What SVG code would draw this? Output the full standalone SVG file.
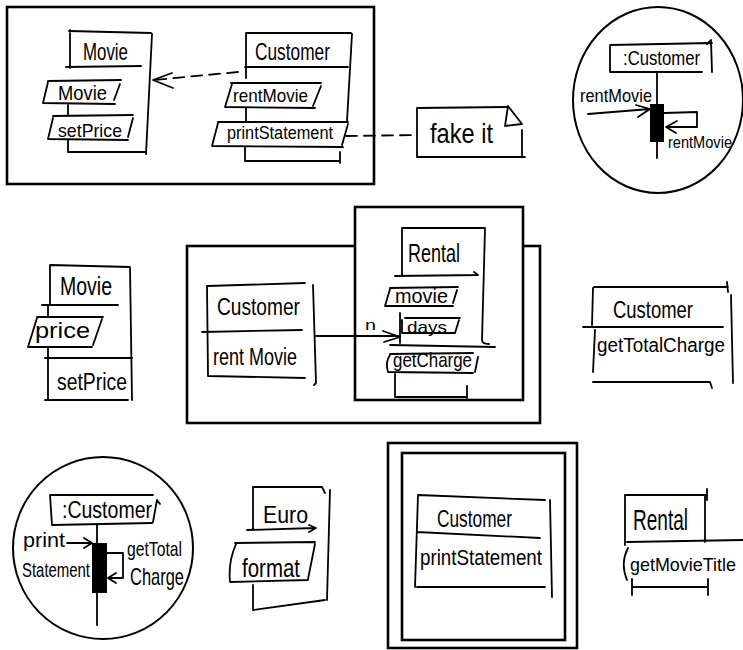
<svg xmlns="http://www.w3.org/2000/svg" width="743" height="650" viewBox="0 0 743 650">
  <style>
    .ln { fill: none; stroke: #000; stroke-width: 1.8; stroke-linecap: round; stroke-linejoin: round; }
    .fr { fill: none; stroke: #000; stroke-width: 2.6; }
    .frw { fill: #fff; stroke: #000; stroke-width: 2.6; }
    .ring { fill: none; stroke: #000; stroke-width: 2; }
    .dash { stroke-dasharray: 11 7; }
    .bar { fill: #000; }
    text { font-family: "Liberation Sans", Arial, sans-serif; fill: #000; }
  </style>
  <rect width="743" height="650" fill="#fff"/>

  <!-- sketch 1: Movie / Customer refactoring with note -->
  <rect class="fr" x="7" y="7" width="367" height="177"/>

  <g id="movie-card-a">
    <path class="ln" d="M70,30 L70,68 M69,31 L151,33 M152,34 L146,154 M66,67 L141,66"/>
    <path class="ln" d="M48,81 L121,80 M48,82 L43,103 L115,104 M120,84 L114,100"/>
    <path class="ln" d="M68,105 L68,115"/>
    <path class="ln" d="M53,116 L133,115 M53,118 L48,139 L128,140 M133,118 L128,137"/>
    <path class="ln" d="M68,140 L68,152 L145,152"/>
    <text x="83" y="60" font-size="24" textLength="45" lengthAdjust="spacingAndGlyphs">Movie</text>
    <text x="58" y="100" font-size="20" textLength="49" lengthAdjust="spacingAndGlyphs">Movie</text>
    <text x="58" y="137" font-size="19" textLength="64" lengthAdjust="spacingAndGlyphs">setPrice</text>
  </g>

  <g id="customer-card-a">
    <path class="ln" d="M246,33 L246,78 M246,33 L351,33 M352,34 L347,121 M245,67 L348,67"/>
    <path class="ln" d="M231,83 L321,83 M232,84 L225,107 L315,108 M321,86 L313,106"/>
    <path class="ln" d="M246,108 L246,121"/>
    <path class="ln" d="M218,122 L348,122 M218,123 L212,146 L343,147 M348,124 L342,145"/>
    <path class="ln" d="M245,147 L245,161 L340,161 M340,152 L340,163"/>
    <text x="255" y="60" font-size="23" textLength="75" lengthAdjust="spacingAndGlyphs">Customer</text>
    <text x="233" y="102" font-size="19" textLength="75" lengthAdjust="spacingAndGlyphs">rentMovie</text>
    <text x="227" y="139" font-size="18" textLength="106" lengthAdjust="spacingAndGlyphs">printStatement</text>
  </g>

  <g id="note-fake-it">
    <path class="ln" d="M417,108 L507,107 M417,108 L417,157 L525,157 M522,130 L522,157"/>
    <path class="ln" stroke-width="2" d="M508,106 L505,126 L522,124 Z"/>
    <text x="430" y="143" font-size="28" textLength="63" lengthAdjust="spacingAndGlyphs">fake it</text>
  </g>

  <!-- sketch 2: rentMovie sequence -->
  <g id="sequence-rent-movie">
    <ellipse class="ring" cx="658" cy="100" rx="85" ry="93"/>
    <path class="ln" d="M610,45 L712,43 M610,45 L610,72 L702,72 M711,40 L712,72 M711,40 L707,44"/>
    <text x="623" y="65" font-size="20" textLength="77" lengthAdjust="spacingAndGlyphs">:Customer</text>
    <path class="ln" d="M657,72 L657,104 M657,142 L657,158"/>
    <rect class="bar" x="650" y="104" width="14" height="38"/>
    <text x="580" y="102" font-size="19" textLength="72" lengthAdjust="spacingAndGlyphs">rentMovie</text>
    <text x="668" y="148" font-size="16" textLength="64" lengthAdjust="spacingAndGlyphs">rentMovie</text>
  </g>

  <!-- sketch 3: Movie with price field -->
  <g id="movie-card-b">
    <path class="ln" d="M50,265 L50,305 M50,265 L130,267 M130,268 L132,400 M42,305 L118,305 M48,305 L48,316"/>
    <path class="ln" d="M37,317 L103,317 M37,318 L28,347 L92,347 M102,319 L93,345"/>
    <path class="ln" d="M48,347 L48,400 M45,358 L132,358 M45,400 L128,400"/>
    <text x="60" y="295" font-size="25" textLength="52" lengthAdjust="spacingAndGlyphs">Movie</text>
    <text x="35" y="338" font-size="22" textLength="55" lengthAdjust="spacingAndGlyphs">price</text>
    <text x="57" y="390" font-size="23" textLength="70" lengthAdjust="spacingAndGlyphs">setPrice</text>
  </g>

  <!-- sketch 4: Customer / Rental association -->
  <rect class="fr" x="187" y="246" width="353" height="177"/>
  <rect class="frw" x="355" y="207" width="168" height="193"/>

  <g id="customer-card-b">
    <path class="ln" d="M207,286 L208,376 M207,286 L305,283 M313,285 L316,383 L314,385 M202,332 L302,330 M208,376 L305,378"/>
    <text x="217" y="315" font-size="23" textLength="83" lengthAdjust="spacingAndGlyphs">Customer</text>
    <text x="213" y="365" font-size="23" textLength="84" lengthAdjust="spacingAndGlyphs">rent Movie</text>
  </g>

  <g id="rental-card-a">
    <path class="ln" d="M402,228 L402,276 M402,228 L485,228 M485,229 L482,340 Q482,344 489,344 M395,276 L478,275 L474,272"/>
    <path class="ln" d="M390,288 L458,287 M390,289 L385,306 L453,306 M457,290 L453,303"/>
    <path class="ln" d="M405,318 L460,318 M402,320 L402,333 L455,333 M459,320 L455,333 M400,313 L400,343"/>
    <path class="ln" d="M390,345 L495,347"/>
    <path class="ln" d="M390,354 L473,353 M390,355 Q385,362 388,372 L473,373 M478,357 L475,372"/>
    <path class="ln" d="M395,374 L395,397 L467,397 M467,386 L467,398"/>
    <text x="408" y="262" font-size="25" textLength="52" lengthAdjust="spacingAndGlyphs">Rental</text>
    <text x="395" y="303" font-size="20" textLength="53" lengthAdjust="spacingAndGlyphs">movie</text>
    <text x="407" y="333" font-size="17" textLength="40" lengthAdjust="spacingAndGlyphs">days</text>
    <text x="393" y="367" font-size="21" textLength="79" lengthAdjust="spacingAndGlyphs">getCharge</text>
  </g>

  <!-- sketch 5: Customer getTotalCharge -->
  <g id="customer-card-c">
    <path class="ln" d="M594,287 L728,287 M727,282 L728,292 M593,288 L592,325 M595,330 L593,372 M583,327 L723,327 M731,295 L733,383 M593,382 L710,382 L712,388"/>
    <text x="613" y="318" font-size="24" textLength="80" lengthAdjust="spacingAndGlyphs">Customer</text>
    <text x="597" y="352" font-size="20" textLength="128" lengthAdjust="spacingAndGlyphs">getTotalCharge</text>
  </g>

  <!-- sketch 6: printStatement sequence -->
  <g id="sequence-print-statement">
    <ellipse class="ring" cx="103" cy="548" rx="90" ry="91"/>
    <path class="ln" d="M50,495 L153,495 M50,495 L52,525 L152,523 M157,500 L153,522 M157,500 L160,504"/>
    <text x="62" y="518" font-size="23" textLength="90" lengthAdjust="spacingAndGlyphs">:Customer</text>
    <path class="ln" d="M97,525 L97,543 M97,593 L97,625"/>
    <rect class="bar" x="92" y="543" width="15" height="50"/>
    <text x="23" y="547" font-size="20" textLength="42" lengthAdjust="spacingAndGlyphs">print</text>
    <text x="22" y="577" font-size="20" textLength="68" lengthAdjust="spacingAndGlyphs">Statement</text>
    <text x="127" y="556" font-size="21" textLength="55" lengthAdjust="spacingAndGlyphs">getTotal</text>
    <text x="130" y="585" font-size="24" textLength="54" lengthAdjust="spacingAndGlyphs">Charge</text>
  </g>

  <!-- sketch 7: Euro -->
  <g id="euro-card">
    <path class="ln" d="M253,487 L253,530 M253,487 L322,487 L325,493 M330,490 L327,600 M247,530 L315,528 M309,525 L316,528 L309,532"/>
    <path class="ln" d="M235,543 L315,542 M236,544 Q228,562 230,582 L308,580 M315,544 L308,579"/>
    <path class="ln" d="M253,585 L253,610 L325,600"/>
    <text x="263" y="523" font-size="24" textLength="45" lengthAdjust="spacingAndGlyphs">Euro</text>
    <text x="242" y="577" font-size="26" textLength="58" lengthAdjust="spacingAndGlyphs">format</text>
  </g>

  <!-- sketch 8: Customer printStatement in a double frame -->
  <rect class="fr" x="388" y="443" width="189" height="205"/>
  <rect class="fr" x="402" y="453" width="163" height="187"/>
  <g id="customer-card-d">
    <path class="ln" d="M418,495 L545,500 M418,495 L415,587 M550,500 L552,597 M417,532 L540,538 M417,587 L545,587"/>
    <text x="437" y="527" font-size="23" textLength="75" lengthAdjust="spacingAndGlyphs">Customer</text>
    <text x="420" y="565" font-size="22" textLength="122" lengthAdjust="spacingAndGlyphs">printStatement</text>
  </g>

  <!-- sketch 9: Rental getMovieTitle -->
  <g id="rental-card-b">
    <path class="ln" d="M625,495 L707,495 M707,489 L707,500 M625,495 L625,545 M705,495 L705,542 M627,542 L743,540"/>
    <path class="ln" d="M628,548 Q620,563 627,580"/>
    <path class="ln" d="M632,579 L632,595 M632,587 L708,587 M708,579 L708,595"/>
    <text x="633" y="530" font-size="30" textLength="55" lengthAdjust="spacingAndGlyphs">Rental</text>
    <text x="630" y="571" font-size="18.5" textLength="106" lengthAdjust="spacingAndGlyphs">getMovieTitle</text>
  </g>

  <!-- connectors and messages -->
  <g id="connectors">
    <path class="ln dash" d="M238,72 L154,80"/>
    <path class="ln" d="M172,73 L153,80 L173,88"/>
    <path class="ln dash" d="M346,136 L417,135"/>
    <path class="ln" d="M316,336 L400,336 M383,331 L400,337 L384,342"/>
    <text x="365" y="330" font-size="15" textLength="11" lengthAdjust="spacingAndGlyphs">n</text>
    <path class="ln" d="M588,114 L650,109 M636,105 L650,109 L638,117"/>
    <path class="ln" d="M664,113 L697,112 L697,127 L668,127 M677,121 L666,127 L676,133"/>
    <path class="ln" d="M67,543 L92,543 M84,538 L92,543 L84,548"/>
    <path class="ln" d="M107,553 L123,553 L123,578 L109,578 M116,573 L108,578 L116,583"/>
  </g>
</svg>
